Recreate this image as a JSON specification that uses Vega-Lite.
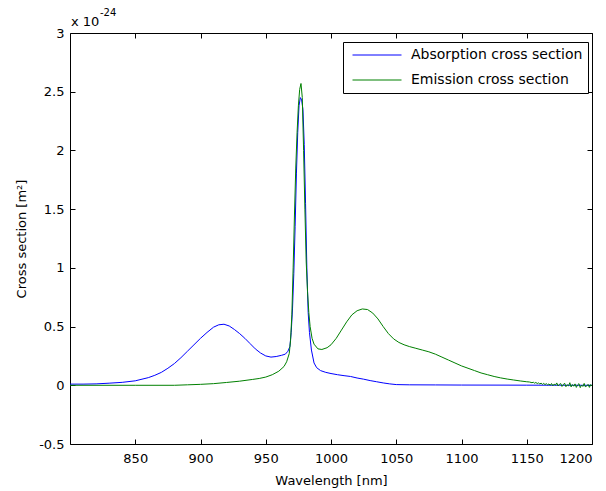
{
  "$schema": "https://vega.github.io/schema/vega-lite/v6.json",
  "width": 522,
  "height": 411,
  "autosize": {"type": "none"},
  "padding": {"left": 70, "top": 33, "right": 14, "bottom": 47},
  "background": "white",
  "config": {
    "view": {"stroke": null},
    "font": "DejaVu Sans",
    "axis": {
      "grid": false,
      "domainColor": "black",
      "tickColor": "black",
      "labelColor": "black",
      "titleColor": "black",
      "labelFont": "DejaVu Sans",
      "titleFont": "DejaVu Sans",
      "labelFontSize": 13,
      "titleFontSize": 13,
      "titleFontWeight": "normal",
      "tickSize": -5,
      "domainWidth": 1,
      "tickWidth": 1
    }
  },
  "datasets": {
    "absorption": [
      {"wavelength": 800, "cs": 0.01}, {"wavelength": 810, "cs": 0.01}, {"wavelength": 820, "cs": 0.012},
      {"wavelength": 830, "cs": 0.018}, {"wavelength": 840, "cs": 0.025}, {"wavelength": 850, "cs": 0.038},
      {"wavelength": 860, "cs": 0.065}, {"wavelength": 865, "cs": 0.085}, {"wavelength": 870, "cs": 0.11},
      {"wavelength": 875, "cs": 0.145}, {"wavelength": 880, "cs": 0.185}, {"wavelength": 885, "cs": 0.235},
      {"wavelength": 890, "cs": 0.29}, {"wavelength": 895, "cs": 0.345}, {"wavelength": 900, "cs": 0.4},
      {"wavelength": 905, "cs": 0.45}, {"wavelength": 910, "cs": 0.495}, {"wavelength": 914, "cs": 0.515},
      {"wavelength": 918, "cs": 0.52}, {"wavelength": 922, "cs": 0.505}, {"wavelength": 926, "cs": 0.475},
      {"wavelength": 930, "cs": 0.44}, {"wavelength": 934, "cs": 0.4}, {"wavelength": 938, "cs": 0.355},
      {"wavelength": 942, "cs": 0.31}, {"wavelength": 946, "cs": 0.275}, {"wavelength": 950, "cs": 0.25},
      {"wavelength": 954, "cs": 0.24}, {"wavelength": 958, "cs": 0.245}, {"wavelength": 962, "cs": 0.255},
      {"wavelength": 965, "cs": 0.265}, {"wavelength": 967, "cs": 0.29}, {"wavelength": 968.5, "cs": 0.33},
      {"wavelength": 969.5, "cs": 0.45}, {"wavelength": 970.5, "cs": 0.65}, {"wavelength": 971.5, "cs": 0.95},
      {"wavelength": 972.5, "cs": 1.35}, {"wavelength": 973.5, "cs": 1.8}, {"wavelength": 974.5, "cs": 2.15},
      {"wavelength": 975.5, "cs": 2.38}, {"wavelength": 976.5, "cs": 2.45}, {"wavelength": 977.5, "cs": 2.43},
      {"wavelength": 978.5, "cs": 2.35}, {"wavelength": 979.5, "cs": 2.05}, {"wavelength": 980.5, "cs": 1.55},
      {"wavelength": 981.5, "cs": 1.0}, {"wavelength": 982.5, "cs": 0.62}, {"wavelength": 983.5, "cs": 0.45},
      {"wavelength": 985, "cs": 0.3}, {"wavelength": 987, "cs": 0.19}, {"wavelength": 989, "cs": 0.15},
      {"wavelength": 992, "cs": 0.125}, {"wavelength": 996, "cs": 0.11}, {"wavelength": 1000, "cs": 0.1},
      {"wavelength": 1005, "cs": 0.09}, {"wavelength": 1010, "cs": 0.082}, {"wavelength": 1015, "cs": 0.075},
      {"wavelength": 1020, "cs": 0.062}, {"wavelength": 1025, "cs": 0.052}, {"wavelength": 1030, "cs": 0.04},
      {"wavelength": 1035, "cs": 0.03}, {"wavelength": 1040, "cs": 0.02}, {"wavelength": 1045, "cs": 0.012},
      {"wavelength": 1050, "cs": 0.006}, {"wavelength": 1060, "cs": 0.004}, {"wavelength": 1080, "cs": 0.003},
      {"wavelength": 1100, "cs": 0.002}, {"wavelength": 1150, "cs": 0.001}, {"wavelength": 1200, "cs": 0.0}
    ],
    "emission": [
      {"wavelength": 800, "cs": 0.0}, {"wavelength": 850, "cs": 0.0}, {"wavelength": 880, "cs": 0.0},
      {"wavelength": 890, "cs": 0.004}, {"wavelength": 900, "cs": 0.008}, {"wavelength": 910, "cs": 0.014},
      {"wavelength": 920, "cs": 0.024}, {"wavelength": 930, "cs": 0.035}, {"wavelength": 940, "cs": 0.05},
      {"wavelength": 945, "cs": 0.058}, {"wavelength": 950, "cs": 0.07}, {"wavelength": 955, "cs": 0.09},
      {"wavelength": 960, "cs": 0.12}, {"wavelength": 964, "cs": 0.16}, {"wavelength": 966, "cs": 0.2},
      {"wavelength": 968, "cs": 0.27}, {"wavelength": 969, "cs": 0.38}, {"wavelength": 970, "cs": 0.6},
      {"wavelength": 971, "cs": 1.0}, {"wavelength": 972, "cs": 1.45}, {"wavelength": 973, "cs": 1.85},
      {"wavelength": 974, "cs": 2.15}, {"wavelength": 975, "cs": 2.38}, {"wavelength": 976, "cs": 2.52},
      {"wavelength": 977, "cs": 2.57}, {"wavelength": 978, "cs": 2.45}, {"wavelength": 979, "cs": 2.0},
      {"wavelength": 980, "cs": 1.5}, {"wavelength": 981, "cs": 1.05}, {"wavelength": 982, "cs": 0.8},
      {"wavelength": 983, "cs": 0.62}, {"wavelength": 984, "cs": 0.5}, {"wavelength": 985.5, "cs": 0.4},
      {"wavelength": 987, "cs": 0.35}, {"wavelength": 990, "cs": 0.31}, {"wavelength": 993, "cs": 0.305},
      {"wavelength": 997, "cs": 0.32}, {"wavelength": 1000, "cs": 0.345}, {"wavelength": 1004, "cs": 0.4},
      {"wavelength": 1008, "cs": 0.47}, {"wavelength": 1012, "cs": 0.54}, {"wavelength": 1016, "cs": 0.6},
      {"wavelength": 1020, "cs": 0.635}, {"wavelength": 1024, "cs": 0.65}, {"wavelength": 1028, "cs": 0.645},
      {"wavelength": 1032, "cs": 0.615}, {"wavelength": 1036, "cs": 0.565}, {"wavelength": 1040, "cs": 0.5},
      {"wavelength": 1044, "cs": 0.44}, {"wavelength": 1048, "cs": 0.395}, {"wavelength": 1052, "cs": 0.365},
      {"wavelength": 1056, "cs": 0.345}, {"wavelength": 1060, "cs": 0.33}, {"wavelength": 1065, "cs": 0.315},
      {"wavelength": 1070, "cs": 0.3}, {"wavelength": 1075, "cs": 0.285}, {"wavelength": 1080, "cs": 0.265},
      {"wavelength": 1085, "cs": 0.24}, {"wavelength": 1090, "cs": 0.215}, {"wavelength": 1095, "cs": 0.19},
      {"wavelength": 1100, "cs": 0.165}, {"wavelength": 1105, "cs": 0.145}, {"wavelength": 1110, "cs": 0.125},
      {"wavelength": 1115, "cs": 0.105}, {"wavelength": 1120, "cs": 0.09}, {"wavelength": 1125, "cs": 0.075},
      {"wavelength": 1130, "cs": 0.063}, {"wavelength": 1135, "cs": 0.053}, {"wavelength": 1140, "cs": 0.045},
      {"wavelength": 1145, "cs": 0.037}, {"wavelength": 1150, "cs": 0.03}, {"wavelength": 1152, "cs": 0.028},
      {"wavelength": 1154, "cs": 0.022}, {"wavelength": 1155, "cs": 0.026}, {"wavelength": 1156, "cs": 0.018},
      {"wavelength": 1157, "cs": 0.024}, {"wavelength": 1158, "cs": 0.015}, {"wavelength": 1159, "cs": 0.02},
      {"wavelength": 1160, "cs": 0.012}, {"wavelength": 1161, "cs": 0.018}, {"wavelength": 1162, "cs": 0.008},
      {"wavelength": 1163, "cs": 0.016}, {"wavelength": 1164, "cs": 0.006}, {"wavelength": 1165, "cs": 0.014},
      {"wavelength": 1166, "cs": 0.003}, {"wavelength": 1167, "cs": 0.012}, {"wavelength": 1168, "cs": 0.0},
      {"wavelength": 1169, "cs": 0.015}, {"wavelength": 1170, "cs": -0.004}, {"wavelength": 1171, "cs": 0.01},
      {"wavelength": 1172, "cs": 0.002}, {"wavelength": 1173, "cs": 0.02}, {"wavelength": 1174, "cs": -0.006},
      {"wavelength": 1175, "cs": 0.008}, {"wavelength": 1176, "cs": 0.015}, {"wavelength": 1177, "cs": -0.01},
      {"wavelength": 1178, "cs": 0.005}, {"wavelength": 1179, "cs": 0.018}, {"wavelength": 1180, "cs": -0.012},
      {"wavelength": 1181, "cs": 0.004}, {"wavelength": 1182, "cs": -0.005}, {"wavelength": 1183, "cs": 0.022},
      {"wavelength": 1184, "cs": -0.014}, {"wavelength": 1185, "cs": 0.006}, {"wavelength": 1186, "cs": -0.008},
      {"wavelength": 1187, "cs": 0.012}, {"wavelength": 1188, "cs": -0.018}, {"wavelength": 1189, "cs": 0.003},
      {"wavelength": 1190, "cs": 0.014}, {"wavelength": 1191, "cs": -0.02}, {"wavelength": 1192, "cs": 0.002},
      {"wavelength": 1193, "cs": -0.01}, {"wavelength": 1194, "cs": 0.016}, {"wavelength": 1195, "cs": -0.015},
      {"wavelength": 1196, "cs": -0.004}, {"wavelength": 1197, "cs": 0.008}, {"wavelength": 1198, "cs": -0.018},
      {"wavelength": 1199, "cs": 0.006}, {"wavelength": 1200, "cs": -0.006}
    ]
  },
  "layer": [
    {
      "data": {"name": "absorption"},
      "mark": {"type": "line", "strokeWidth": 1, "clip": true},
      "encoding": {
        "x": {
          "field": "wavelength", "type": "quantitative",
          "scale": {"domain": [800, 1200], "nice": false, "zero": false},
          "axis": {"orient": "bottom", "values": [850, 900, 950, 1000, 1050, 1100, 1150, 1200], "labelExpr": "datum.value + ''", "title": "Wavelength [nm]", "labelPadding": 13, "titlePadding": 9}
        },
        "y": {
          "field": "cs", "type": "quantitative",
          "scale": {"domain": [-0.5, 3], "nice": false, "zero": false},
          "axis": {"orient": "left", "values": [-0.5, 0, 0.5, 1, 1.5, 2, 2.5, 3], "labelExpr": "datum.value + ''", "title": "Cross section [m²]", "labelPadding": 11, "titlePadding": 10}
        },
        "color": {
          "datum": "Absorption cross section", "type": "nominal",
          "scale": {"domain": ["Absorption cross section", "Emission cross section"], "range": ["#0000ff", "#008000"]},
          "legend": {
            "orient": "none", "legendX": 273, "legendY": 9, "title": null,
            "symbolType": "stroke", "symbolSize": 2401, "symbolStrokeWidth": 1, "symbolOffset": 4,
            "clipHeight": 16,
            "labelFont": "DejaVu Sans", "labelFontSize": 14, "labelColor": "black",
            "labelExpr": "datum.label + ' '",
            "strokeColor": "black", "fillColor": "white", "padding": 5, "rowPadding": 9,
            "labelOffset": 9, "labelLimit": 300
          }
        }
      }
    },
    {
      "data": {"name": "emission"},
      "mark": {"type": "line", "strokeWidth": 1, "clip": true},
      "encoding": {
        "x": {"field": "wavelength", "type": "quantitative", "axis": null},
        "y": {"field": "cs", "type": "quantitative", "axis": null},
        "color": {"datum": "Emission cross section", "type": "nominal"}
      }
    },
    {
      "data": {"values": [{"label": "x 10"}]},
      "mark": {"type": "text", "align": "left", "baseline": "alphabetic", "dx": 1, "dy": -7, "fontSize": 13, "font": "DejaVu Sans", "color": "black"},
      "encoding": {
        "x": {"datum": 800, "type": "quantitative", "axis": {"orient": "top", "labels": false, "title": null, "values": [850, 900, 950, 1000, 1050, 1100, 1150, 1200]}},
        "y": {"datum": 3, "type": "quantitative", "axis": {"orient": "right", "labels": false, "title": null, "values": [-0.5, 0, 0.5, 1, 1.5, 2, 2.5, 3]}},
        "text": {"field": "label"}
      }
    },
    {
      "data": {"values": [{"label": "-24"}]},
      "mark": {"type": "text", "align": "left", "baseline": "alphabetic", "dx": 30, "dy": -17, "fontSize": 10, "font": "DejaVu Sans", "color": "black"},
      "encoding": {
        "x": {"datum": 800, "type": "quantitative", "axis": null},
        "y": {"datum": 3, "type": "quantitative", "axis": null},
        "text": {"field": "label"}
      }
    }
  ],
  "resolve": {"axis": {"x": "independent", "y": "independent"}}
}
